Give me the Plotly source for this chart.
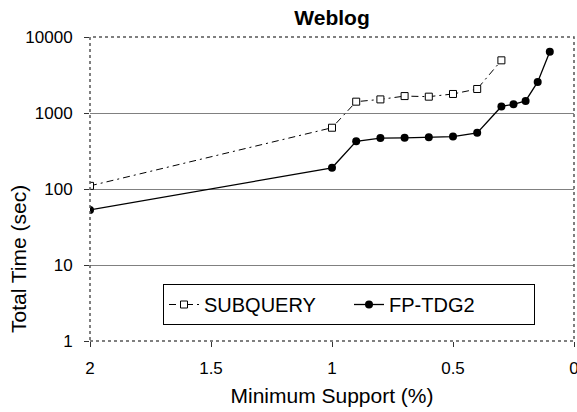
import plotly.graph_objects as go

support_sub = [2, 1, 0.9, 0.8, 0.7, 0.6, 0.5, 0.4, 0.3]
time_sub = [110, 640, 1410, 1510, 1670, 1640, 1780, 2070, 4930]

support_fp = [2, 1, 0.9, 0.8, 0.7, 0.6, 0.5, 0.4, 0.3, 0.25, 0.2, 0.15, 0.1]
time_fp = [53, 190, 424, 468, 472, 480, 490, 548, 1220, 1300, 1440, 2560, 6400]

x_ticks = [2, 1.5, 1, 0.5, 0]
y_ticks = [1, 10, 100, 1000, 10000]

FONT = "Liberation Sans"

fig = go.Figure()
fig.add_trace(go.Scatter(
    x=support_sub, y=time_sub, name="SUBQUERY", mode="lines+markers",
    line=dict(color="black", width=1, dash="7px,4px,2px,4px"),
    marker=dict(symbol="square", size=7, color="white", line=dict(color="black", width=1)),
))
fig.add_trace(go.Scatter(
    x=support_fp, y=time_fp, name="FP-TDG2", mode="lines+markers",
    line=dict(color="black", width=1.3),
    marker=dict(symbol="circle", size=8, color="black"),
))

L, R, T, B = 90, 3, 37, 71
W, H = 577, 412
PW, PH = W - L - R, H - T - B
fig.update_layout(
    width=W, height=H,
    margin=dict(l=L, r=R, t=T, b=B, autoexpand=False),
    paper_bgcolor="white", plot_bgcolor="white",
    font=dict(family=FONT, color="black", size=17),
    title=dict(text="<b>Weblog</b>", x=0.5, xref="paper", y=1 - 18 / H, yanchor="middle",
               font=dict(size=21, family=FONT, color="black")),
    showlegend=True,
    legend=dict(orientation="h", x=(163 - L) / PW, y=(341 - 284) / PH,
                xanchor="left", yanchor="top",
                bgcolor="white", bordercolor="black", borderwidth=1,
                font=dict(size=20, family=FONT, color="black"),
                itemwidth=30, entrywidth=140),
    xaxis=dict(range=[2, 0], tickvals=x_ticks, ticktext=[str(v) for v in x_ticks],
               showgrid=False, zeroline=False, showline=False,
               ticks="outside", ticklen=5, tickcolor="#333", tickwidth=1,
               ticklabelstandoff=7, ticklabeloverflow="allow", automargin=False,
               title=dict(text="Minimum Support (%)", standoff=10,
                          font=dict(size=21, family=FONT, color="black"))),
    yaxis=dict(type="log", range=[0, 4], tickvals=y_ticks, ticktext=[str(v) for v in y_ticks],
               showgrid=True, gridcolor="#808080", gridwidth=1, zeroline=False, showline=False,
               ticks="outside", ticklen=5, tickcolor="#333", tickwidth=1,
               ticklabelstandoff=8, automargin=False),
    annotations=[dict(text="Total Time (sec)", textangle=-90, xref="paper", yref="paper",
                      x=(18 - L) / PW, y=(H - 259 - B) / PH, xanchor="center", yanchor="middle",
                      showarrow=False, font=dict(size=21, family=FONT, color="black"))],
)
fig.add_shape(type="rect", xref="paper", yref="paper", x0=0, x1=1, y0=0, y1=1,
              line=dict(color="#555", width=1.5, dash="dot"), layer="above")
fig.write_html("out.html")
